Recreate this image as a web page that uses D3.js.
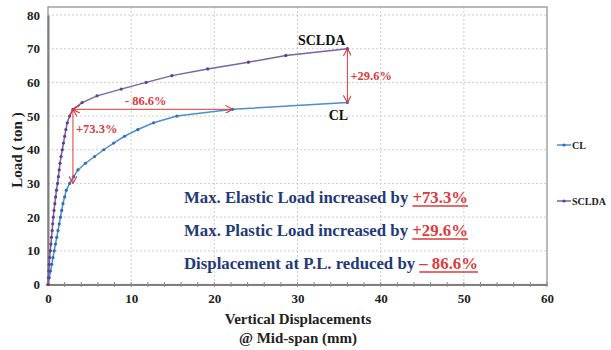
<!DOCTYPE html>
<html>
<head>
<meta charset="utf-8">
<script src="https://cdn.jsdelivr.net/npm/d3@7"></script>
<style>
  html, body { margin: 0; padding: 0; background: #fff; }
  svg { display: block; }
  svg text { font-family: "Liberation Serif", "Times New Roman", serif; font-weight: 700; }
</style>
</head>
<body>
<svg id="chart" width="611" height="350"></svg>
<script>
// Load-displacement curves at mid-span
const clDisp    = [0, 0.15, 0.3, 0.45, 0.6, 0.75, 0.9, 1.05, 1.2, 1.35, 1.5, 1.65, 1.8, 2.0, 2.2, 2.6, 3.1, 3.6, 4.5, 5.6, 6.7, 7.9, 9.2, 10.8, 12.7, 15.5, 22.2, 36];
const clLoad    = [0, 2, 4, 6, 8, 10, 12, 14, 16, 18, 20, 22, 24, 26, 28, 30, 32, 34, 36, 38, 40, 42, 44, 46, 48, 50, 52, 54];
const scldaDisp = [0, 0.05, 0.1, 0.15, 0.2, 0.28, 0.35, 0.42, 0.5, 0.56, 0.64, 0.72, 0.82, 0.92, 1.02, 1.15, 1.25, 1.35, 1.45, 1.57, 1.72, 1.86, 2.0, 2.15, 2.32, 2.6, 3.0, 4.1, 5.9, 8.8, 11.8, 14.9, 19.2, 24.1, 28.6, 36];
const scldaLoad = [0, 2, 4, 6, 8, 10, 12, 14, 16, 18, 20, 22, 24, 26, 28, 30, 32, 34, 36, 38, 40, 42, 44, 46, 48, 50, 52, 54, 56, 58, 60, 62, 64, 66, 68, 70];

// Key points used by the annotations
const elasticDisp = 3.0;      // yield displacement of SCLDA
const elasticCL = 30;         // max elastic load, CL
const elasticSCLDA = 52;      // max elastic load, SCLDA
const plasticDispCL = 22.2;   // displacement of CL at the SCLDA elastic load
const ultimateDisp = 36;
const ultimateCL = 54;
const ultimateSCLDA = 70;

const xTicks = [0, 10, 20, 30, 40, 50, 60];
const xMinorTicks = d3.range(0, 61, 2);
const yTicks = [0, 10, 20, 30, 40, 50, 60, 70, 80];

const seriesNames = ["CL", "SCLDA"];
const seriesColors = ["#4a8fd2", "#7e5fa8"];
const markerColors = ["#2f6fb5", "#5e3f8c"];

const summaryLines = [
  ["Max. Elastic Load increased by ", "+73.3%"],
  ["Max. Plastic Load increased by ", "+29.6%"],
  ["Displacement at P.L. reduced by ", "\u2013 86.6%"]
];
const summaryWidths = [284, 284, 294];

const red = "#dc3a3c";
const navy = "#1f3a78";

const svg = d3.select("#chart");
const x = d3.scaleLinear().domain([0, 60]).range([48, 547]);
const y = d3.scaleLinear().domain([0, 80]).range([284.5, 15]);

// arrowhead marker (open V)
const defs = svg.append("defs");
defs.append("marker")
  .attr("id", "arrow")
  .attr("viewBox", "0 0 10 10")
  .attr("refX", 9).attr("refY", 5)
  .attr("markerWidth", 8).attr("markerHeight", 8)
  .attr("markerUnits", "userSpaceOnUse")
  .attr("orient", "auto-start-reverse")
  .append("path")
  .attr("d", "M0,0 L9,5 L0,10")
  .attr("fill", "none")
  .attr("stroke", red)
  .attr("stroke-width", 1.4);

// gridlines
const grid = svg.append("g");
grid.selectAll("line.h").data(yTicks.slice(1)).join("line")
  .attr("x1", x(0)).attr("x2", x(60))
  .attr("y1", d => y(d)).attr("y2", d => y(d))
  .attr("stroke", "#cfcfcf").attr("stroke-dasharray", "2,2").attr("stroke-width", 1);
grid.selectAll("line.v").data(xTicks.slice(1, -1)).join("line")
  .attr("y1", 7).attr("y2", y(0))
  .attr("x1", d => x(d)).attr("x2", d => x(d))
  .attr("stroke", "#cfcfcf").attr("stroke-dasharray", "2,2").attr("stroke-width", 1);

// plot frame
svg.append("rect")
  .attr("x", x(0)).attr("y", 7)
  .attr("width", x(60) - x(0)).attr("height", y(0) - 7)
  .attr("fill", "none").attr("stroke", "#8a8a8a").attr("stroke-width", 1.2);

// axes
const xAxis = svg.append("g").attr("transform", `translate(0,${y(0)})`)
  .call(d3.axisBottom(x).tickValues(xTicks).tickSize(0).tickPadding(9).tickFormat(d3.format("d")));
xAxis.select(".domain").attr("stroke", "#7f7f7f").attr("stroke-width", 2);
xAxis.selectAll("text").attr("font-size", 13).attr("fill", "#222")
  .attr("font-family", "Liberation Serif").attr("font-weight", "bold");
svg.append("g").selectAll("line").data(xMinorTicks.filter(d => d > 0)).join("line")
  .attr("x1", d => x(d)).attr("x2", d => x(d))
  .attr("y1", y(0) - 2.5).attr("y2", y(0) + 2.5)
  .attr("stroke", "#8a8a8a").attr("stroke-width", 1);

const yAxis = svg.append("g").attr("transform", `translate(${x(0)},0)`)
  .call(d3.axisLeft(y).tickValues(yTicks).tickSize(0).tickPadding(8).tickFormat(d3.format("d")));
yAxis.select(".domain").attr("stroke", "#7f7f7f").attr("stroke-width", 2);
yAxis.selectAll("text").attr("font-size", 13).attr("fill", "#222")
  .attr("font-family", "Liberation Serif").attr("font-weight", "bold");

// axis titles
svg.append("text").attr("x", 298).attr("y", 324).attr("text-anchor", "middle")
  .attr("font-size", 15).attr("fill", "#222").text("Vertical  Displacements");
svg.append("text").attr("x", 298).attr("y", 343).attr("text-anchor", "middle")
  .attr("font-size", 15).attr("fill", "#222").text("@ Mid-span (mm)");
svg.append("text").attr("transform", "translate(22,150) rotate(-90)").attr("text-anchor", "middle")
  .attr("font-size", 15).attr("fill", "#222").text("Load ( ton )");

// series
const series = [
  { name: seriesNames[0], xs: clDisp, ys: clLoad, color: seriesColors[0], mk: markerColors[0] },
  { name: seriesNames[1], xs: scldaDisp, ys: scldaLoad, color: seriesColors[1], mk: markerColors[1] }
];
const line = d3.line().x(d => x(d[0])).y(d => y(d[1]));
series.forEach(s => {
  const pts = s.xs.map((v, i) => [v, s.ys[i]]);
  svg.append("path").datum(pts).attr("d", line)
    .attr("fill", "none").attr("stroke", s.color).attr("stroke-width", 1.5);
  svg.append("g").selectAll("circle").data(pts).join("circle")
    .attr("cx", d => x(d[0])).attr("cy", d => y(d[1])).attr("r", 1.6)
    .attr("fill", s.mk);
});

// annotation arrows
function arrow(x1, y1, x2, y2, both) {
  const l = svg.append("line")
    .attr("x1", x1).attr("y1", y1).attr("x2", x2).attr("y2", y2)
    .attr("stroke", red).attr("stroke-width", 1)
    .attr("marker-end", "url(#arrow)");
  if (both) l.attr("marker-start", "url(#arrow)");
}
arrow(x(elasticDisp), y(elasticSCLDA), x(elasticDisp), y(elasticCL), true);
arrow(x(elasticDisp), y(elasticSCLDA), x(plasticDispCL), y(elasticSCLDA), true);
arrow(x(ultimateDisp), y(ultimateSCLDA), x(ultimateDisp), y(ultimateCL), true);

svg.append("text").attr("x", x(elasticDisp) + 3).attr("y", y((elasticSCLDA + elasticCL) / 2 + 4))
  .attr("font-size", 12.5).attr("fill", red).text("+73.3%");
svg.append("text").attr("x", (x(elasticDisp) + x(plasticDispCL)) / 2 - 7).attr("y", y(elasticSCLDA) - 4)
  .attr("text-anchor", "middle").attr("font-size", 12.5).attr("fill", red).text("- 86.6%");
svg.append("text").attr("x", x(ultimateDisp) + 3).attr("y", y((ultimateSCLDA + ultimateCL) / 2) + 4)
  .attr("font-size", 12.5).attr("fill", red).text("+29.6%");

// series labels at curve ends
svg.append("text").attr("x", x(ultimateDisp) - 2).attr("y", y(ultimateSCLDA) - 4)
  .attr("text-anchor", "end").attr("font-size", 14).attr("fill", "#111").text("SCLDA");
svg.append("text").attr("x", x(ultimateDisp) - 9).attr("y", y(ultimateCL) + 17)
  .attr("text-anchor", "middle").attr("font-size", 14).attr("fill", "#111").text("CL");

// summary statements, each stretched to its line width, with the percentage underlined
summaryLines.forEach((ln, i) => {
  const t = svg.append("text").attr("x", 184).attr("y", 203 + i * 33)
    .attr("font-size", 16).attr("fill", navy)
    .attr("textLength", summaryWidths[i]).attr("lengthAdjust", "spacingAndGlyphs");
  t.append("tspan").text(ln[0]);
  const p = t.append("tspan").attr("fill", red).text(ln[1]);
  const n = p.node();
  const s0 = n.getStartPositionOfChar(0);
  const e1 = n.getEndPositionOfChar(ln[1].length - 1);
  svg.append("line")
    .attr("x1", s0.x).attr("x2", e1.x)
    .attr("y1", s0.y + 3).attr("y2", s0.y + 3)
    .attr("stroke", red).attr("stroke-width", 1.5);
});

// legend
const legend = svg.append("g");
[[seriesNames[0], 145], [seriesNames[1], 201]].forEach((d, i) => {
  legend.append("line").attr("x1", 557).attr("x2", 571).attr("y1", d[1]).attr("y2", d[1])
    .attr("stroke", seriesColors[i]).attr("stroke-width", 1.5);
  legend.append("circle").attr("cx", 564).attr("cy", d[1]).attr("r", 1.6).attr("fill", markerColors[i]);
  legend.append("text").attr("x", 572).attr("y", d[1] + 3.5).attr("font-size", 10).attr("fill", "#222").text(d[0]);
});
</script>
</body>
</html>
